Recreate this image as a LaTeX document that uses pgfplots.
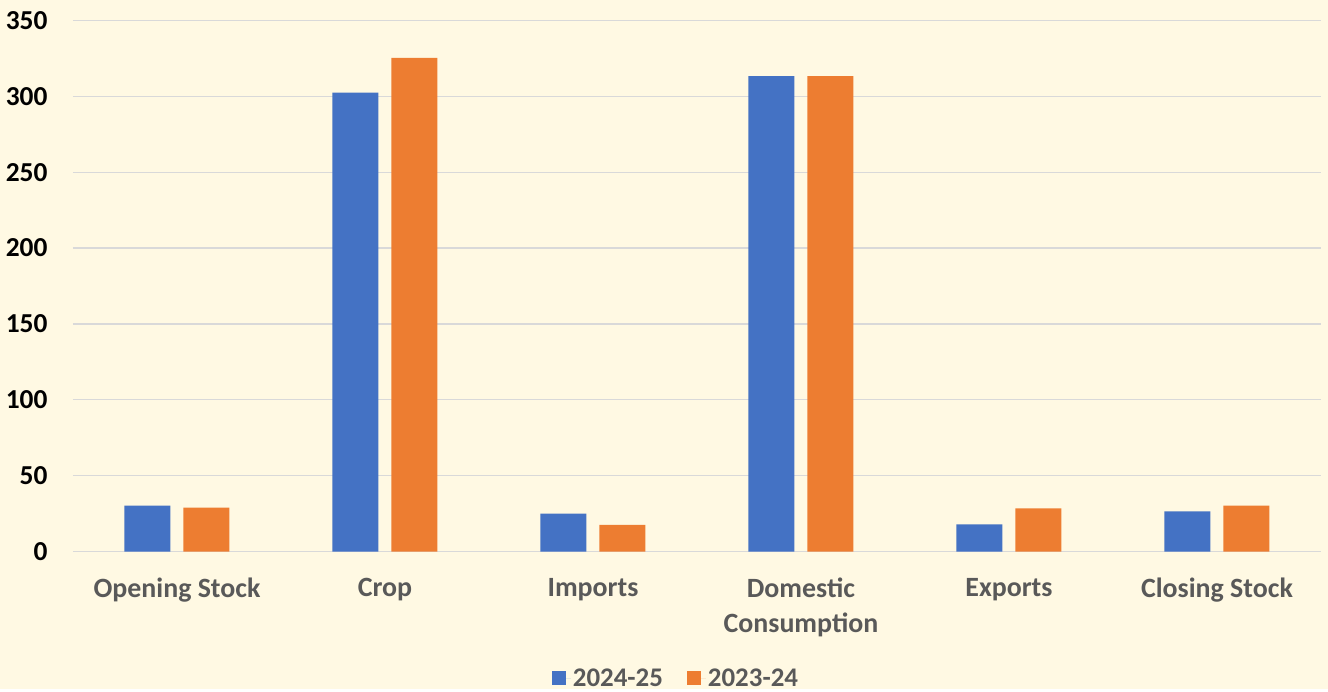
\documentclass[border=0pt]{standalone}
\usepackage{pgfplots}
\pgfplotsset{compat=1.18}
\usetikzlibrary{backgrounds}
\usepackage{fontspec}
\setmainfont{Carlito}
\definecolor{bg}{HTML}{FFF9E3}
\definecolor{gridc}{HTML}{D9D9D9}
\definecolor{cblue}{HTML}{4472C4}
\definecolor{corange}{HTML}{ED7D31}
\definecolor{labgray}{HTML}{595959}

\begin{document}
\begin{tikzpicture}
\begin{axis}[
    width=1248bp, height=531bp,
    scale only axis,
    ybar=13bp, bar width=46bp,
    xmin=-0.5, xmax=5.5,
    ymin=0, ymax=350,
    ytick={0,50,...,350},
    xtick=data,
    xticklabels={Opening Stock,Crop,Imports,{Domestic\\Consumption},Exports,Closing Stock},
    axis line style={draw=none},
    major tick length=0pt,
    ymajorgrids, grid style={gridc, line width=1.2bp},
    yticklabel style={font=\fontsize{27.5}{32}\selectfont\bfseries, text=black, xshift=-22bp},
    xticklabel style={font=\fontsize{28}{35}\selectfont\bfseries, text=labgray, align=center, yshift=-23bp},
    /pgf/number format/assume math mode=true,
    legend style={at={(rel axis cs:0.5,0)}, anchor=center, yshift=-126.5bp, xshift=-21bp,
        draw=none, fill=none,
        legend columns=2, font=\fontsize{27}{30}\selectfont\bfseries, text=labgray,
        /tikz/every even column/.append style={column sep=22bp}},
    legend image code/.code={\fill[#1] (0bp,-7bp) rectangle (14bp,7bp); \path (14bp,0bp) -- (19bp,0bp);},
]
\addplot[fill=cblue, draw=none] coordinates {(0,30.2) (1,302.4) (2,24.9) (3,313.3) (4,17.9) (5,26.5)};
\addlegendentry{2024-25}
\addplot[fill=corange, draw=none] coordinates {(0,28.9) (1,325.3) (2,17.5) (3,313.3) (4,28.5) (5,30.2)};
\addlegendentry{2023-24}
\end{axis}
\begin{scope}[on background layer]
\fill[bg] (-73bp,-137.5bp) rectangle (1255bp,551.5bp);
\end{scope}
\path[use as bounding box] (-73bp,-137.5bp) rectangle (1255bp,551.5bp);
\end{tikzpicture}
\end{document}
